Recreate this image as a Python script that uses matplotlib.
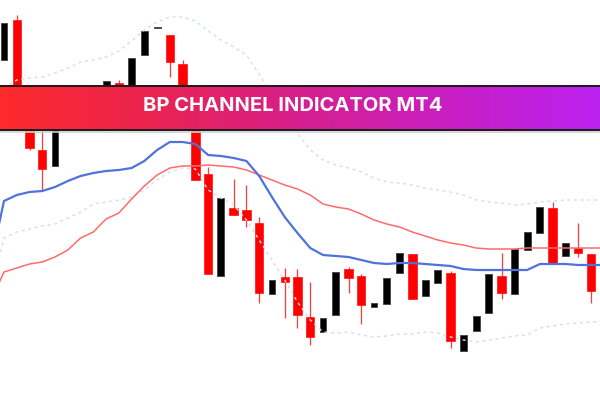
import numpy as np
import matplotlib
matplotlib.use("Agg")
import matplotlib.pyplot as plt
from matplotlib.colors import LinearSegmentedColormap

# ---- data (chart units, larger value = lower on the chart; y axis inverted) ----
candle_open  = [60, 20, 100, 150, 166, 125, 95, 112, 100, 83, 100, 55, 28, 35, 64, 115,
                174, 276, 208, 210, 223, 294, 277, 277, 317, 332, 315, 269, 276, 307, 304,
                273, 254, 296, 283, 273, 351, 331, 313, 276, 294, 250, 233, 208, 256, 248, 254]
candle_close = [23, 110, 148, 169, 115, 100, 115, 90, 81, 92, 58, 31, 26.5, 62, 115, 180,
                274, 198, 215, 220, 293, 280, 282, 315, 337, 318, 272, 278, 305, 303, 278,
                253, 299, 280, 270, 341, 335, 316, 274, 293, 249, 232, 207, 264, 243, 253, 291]
candle_high  = [23, 15, 100, 120, 115, 95, 92, 90, 81, 80, 58, 31, 26.5, 35, 60, 112,
                167, 198, 179, 185, 217, 280, 268, 269, 282, 318, 272, 267, 274, 303, 278,
                253, 254, 280, 270, 271, 335, 316, 274, 253, 249, 232, 207, 202, 243, 223, 254]
candle_low   = [60, 110, 150, 190, 166, 125, 118, 112, 100, 95, 100, 55, 28, 77, 115, 180,
                274, 276, 215, 227, 303, 294, 318, 328, 345, 332, 315, 293, 324, 307, 304,
                273, 299, 296, 283, 348, 351, 331, 313, 299, 294, 250, 233, 264, 256, 257, 303]

# indicator lines, one value per bar from index -1 to 47
line_blue = [260, 201, 195, 192, 191, 187, 181, 176, 173, 171, 170, 168, 161, 150, 142, 142,
             144, 155, 156, 158, 161, 176, 197, 217, 233, 248, 255, 256, 257, 260, 263, 264,
             263, 263, 264, 265, 266, 269, 270, 270, 270, 270, 270, 264, 264, 264, 265, 265, 265]
line_red = [300, 272, 268, 264, 262, 257, 250, 238, 232, 219, 213, 199, 186, 175, 168, 166,
            166, 165, 166, 167, 170, 175, 180, 185, 189, 195, 204, 207, 209, 214, 220, 224,
            227, 232, 236, 240, 243, 245, 248, 249, 249, 249, 248, 248, 248, 248, 248, 248, 248]
band_upper = [100, 88, 80, 78, 77, 73, 68, 62, 60, 57, 51, 41, 30, 22, 17, 17,
              21, 31, 40, 47, 55, 74, 95, 115, 133, 150, 160, 165, 168, 172, 178, 182,
              183, 185, 188, 190, 192, 195, 200, 202, 203, 205, 204, 202, 201, 200, 200, 200, 200]
band_lower = [290, 238, 232, 229, 226, 224, 218, 212, 204, 202, 200, 197, 190, 180, 172, 168,
              169, 190, 198, 205, 220, 240, 260, 280, 302, 320, 332, 333, 332, 335, 337, 336,
              334, 334, 332, 333, 337, 340, 342, 340, 338, 336, 335, 328, 326, 324, 323, 322, 321]

title_text = "BP CHANNEL INDICATOR MT4"

# ---- figure ----
fig = plt.figure(figsize=(6, 4), dpi=100)
ax = fig.add_axes([0, 0, 1, 1])
ax.set_facecolor("white")
ax.set_xlim(-0.3135, 46.71)
ax.set_ylim(400, 0)
ax.axis("off")

idx = np.arange(len(candle_open))
o = np.array(candle_open, float)
c = np.array(candle_close, float)
h = np.array(candle_high, float)
l = np.array(candle_low, float)
bear = c > o  # close lower on chart

# wicks
ax.vlines(idx[bear], h[bear], l[bear], color="#ff3a3a", lw=0.9, zorder=2)
ax.vlines(idx[~bear], h[~bear], l[~bear], color="#222222", lw=0.9, zorder=2)
# bodies
top = np.minimum(o, c)
bot = np.maximum(o, c)
hgt = np.maximum(bot - top, 1.5)
ax.bar(idx[bear], hgt[bear], bottom=top[bear], width=0.66, color="#ff0000",
       edgecolor="#ff1010", lw=0.5, zorder=3)
ax.bar(idx[~bear], hgt[~bear], bottom=top[~bear], width=0.54, color="#000000",
       edgecolor="#4a4a4a", lw=0.7, zorder=3)

lx = np.arange(-1, len(line_blue) - 1)
dot_style = dict(color="#d2def0", lw=1.0, ls=(0, (2.2, 2.6)), zorder=4)
ax.plot(lx, band_upper, **dot_style)
ax.plot(lx, band_lower, **dot_style)
ax.plot(lx, line_red, color="#ff6b6b", lw=1.1, zorder=5)
ax.plot(lx, line_blue, color="#4f72dd", lw=1.6, zorder=6)

# ---- banner ----
cmap = LinearSegmentedColormap.from_list(
    "banner", ["#fd2a2c", "#ea2350", "#d61f8e", "#c81fc4", "#bb22f0"])
grad = np.linspace(0, 1, 512).reshape(1, -1)
x0, x1 = ax.get_xlim()
ax.imshow(grad, aspect="auto", cmap=cmap, extent=(x0, x1, 130, 85),
          zorder=10, interpolation="bilinear")
ax.set_xlim(x0, x1)
ax.set_ylim(400, 0)
ax.axhline(85.5, color="#1a1a1a", lw=1.4, zorder=11)
ax.axhline(130, color="#1a1a1a", lw=1.4, zorder=11)
ax.axhline(131.8, color="#cfcfcf", lw=1.2, zorder=11)

fig.text(293 / 600, 1 - 111 / 400, title_text, color="white", ha="center",
         va="baseline", fontsize=14.5, fontweight="bold", family=["Inter", "DejaVu Sans"])

fig.savefig("out.png", dpi=100, facecolor="white")
